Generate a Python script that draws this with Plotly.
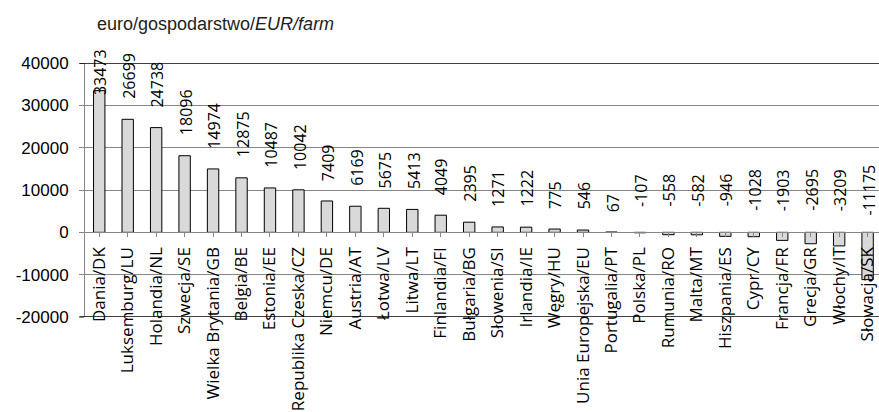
import plotly.graph_objects as go

categories = ["Dania/DK", "Luksemburg/LU", "Holandia/NL", "Szwecja/SE", "Wielka Brytania/GB",
              "Belgia/BE", "Estonia/EE", "Republika Czeska/CZ", "Niemcu/DE", "Austria/AT",
              "Łotwa/LV", "Litwa/LT", "Finlandia/FI", "Bułgaria/BG", "Słowenia/SI",
              "Irlandia/IE", "Węgry/HU", "Unia Europejska/EU", "Portugalia/PT", "Polska/PL",
              "Rumunia/RO", "Malta/MT", "Hiszpania/ES", "Cypr/CY", "Francja/FR",
              "Grecja/GR", "Włochy/IT", "Słowacja/SK"]
values = [33473, 26699, 24738, 18096, 14974, 12875, 10487, 10042, 7409, 6169,
          5675, 5413, 4049, 2395, 1271, 1222, 775, 546, 67, -107,
          -558, -582, -946, -1028, -1903, -2695, -3209, -11175]
y_ticks = [-20000, -10000, 0, 10000, 20000, 30000, 40000]
y_title = "euro/gospodarstwo/<i>EUR/farm</i>"

grid_col = "#868686"
lab_font = "Open Sans"

fig = go.Figure()
fig.add_trace(go.Bar(
    x=list(range(len(categories))), y=values,
    marker=dict(color="#d9d9d9", line=dict(color="black", width=1)),
    width=0.4, hoverinfo="skip", showlegend=False,
))

# value labels
for i, v in enumerate(values):
    if v >= 0:
        fig.add_annotation(x=i, y=min(v + 4300, 32000), xref="x", yref="y",
                           text=str(v), textangle=-90, showarrow=False,
                           yanchor="bottom", xanchor="center", xshift=1,
                           font=dict(family=lab_font, size=16, color="black"))
    else:
        fig.add_annotation(x=i, y=10000, xref="x", yref="y",
                           text=str(v), textangle=-90, showarrow=False,
                           yanchor="middle", xanchor="center", xshift=1,
                           font=dict(family=lab_font, size=16, color="black"))

# top and bottom dark border lines
for yy in (y_ticks[-1], y_ticks[0]):
    fig.add_shape(type="line", xref="paper", yref="y", x0=-0.007, x1=1, y0=yy, y1=yy,
                  line=dict(color="black", width=1.5))

fig.add_annotation(text=y_title, xref="paper", yref="paper", x=(95 - 85) / 794, y=1.0,
                   xanchor="left", yanchor="bottom", showarrow=False, yshift=27,
                   font=dict(family="Liberation Sans", size=18, color="#222"))

fig.update_layout(
    width=879, height=412,
    margin=dict(l=85, r=0, t=63, b=95),
    plot_bgcolor="white", paper_bgcolor="white",
    bargap=0.6,
    xaxis=dict(
        range=[-0.5, 27.4],
        tickmode="array", tickvals=list(range(len(categories))), ticktext=categories,
        tickangle=-90, anchor="free", position=1 / 3,
        showline=True, linecolor=grid_col, linewidth=1,
        ticks="outside", ticklen=4, tickcolor=grid_col, tickson="boundaries",
        showgrid=False, zeroline=False, automargin=False, ticklabelstandoff=3,
        tickfont=dict(family=lab_font, size=17, color="black"),
    ),
    yaxis=dict(
        range=[-20000, 40000], tickmode="array", tickvals=y_ticks,
        ticktext=[str(t) for t in y_ticks],
        showgrid=True, gridcolor=grid_col, gridwidth=1,
        zeroline=False, showline=True, linecolor=grid_col, linewidth=1,
        ticks="outside", ticklen=5, tickcolor=grid_col, ticklabelstandoff=7,
        tickfont=dict(family="Liberation Sans", size=17, color="black"),
        automargin=False,
    ),
)

fig.write_html("out.html", config={"displayModeBar": False},
               post_script="document.body.style.margin='0';document.body.style.overflow='hidden';")
